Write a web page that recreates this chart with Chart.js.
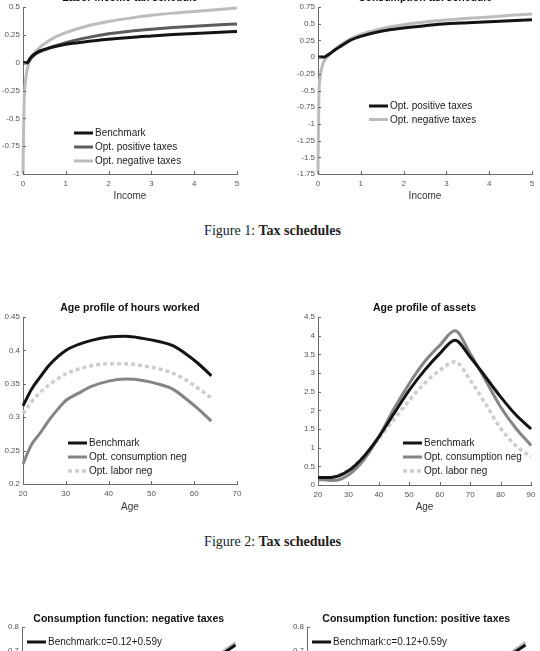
<!DOCTYPE html>
<html>
<head>
<meta charset="utf-8">
<script src="https://cdn.jsdelivr.net/npm/chart.js@4.4.0/dist/chart.umd.min.js"></script>
<style>
    html, body {
        margin: 0;
        padding: 0;
        background: #fff;
        width: 540px;
        height: 651px;
        overflow: hidden;
        position: relative;
    }
    canvas {
        position: absolute;
    }
    .caption {
        position: absolute;
        left: 0;
        width: 545px;
        text-align: center;
        font-family: "Liberation Serif", "Times New Roman", serif;
        font-size: 14px;
        color: #222;
    }
</style>
</head>
<body>
<div class="caption" style="top:223px">Figure 1: <b>Tax schedules</b></div>
<div class="caption" style="top:534px">Figure 2: <b>Tax schedules</b></div>

<script>
// Figure 1: tax schedules (x = income)
const incomeGrid = [0, 0.02, 0.05, 0.1, 0.15, 0.2, 0.3, 0.4, 0.5, 0.75, 1, 1.5, 2, 2.5, 3, 3.5, 4, 4.5, 5];
const laborBenchmark = [0, 0, 0, 0, 0.03, 0.055, 0.085, 0.105, 0.12, 0.145, 0.165, 0.19, 0.21, 0.227, 0.24, 0.252, 0.263, 0.272, 0.28];
const laborOptPositive = [0, 0, 0, 0, 0.02, 0.045, 0.08, 0.1, 0.115, 0.15, 0.18, 0.225, 0.26, 0.283, 0.3, 0.315, 0.327, 0.338, 0.348];
const laborOptNegative = [-1, -0.45, -0.2, -0.06, 0.01, 0.05, 0.1, 0.14, 0.17, 0.23, 0.27, 0.33, 0.37, 0.4, 0.425, 0.445, 0.46, 0.475, 0.49];
const consOptPositive = [0, 0, 0, 0, 0, 0.02, 0.06, 0.11, 0.15, 0.25, 0.31, 0.39, 0.435, 0.47, 0.5, 0.515, 0.53, 0.545, 0.56];
const consOptNegative = [-1.75, -0.6, -0.3, -0.13, -0.05, -0.01, 0.06, 0.12, 0.17, 0.27, 0.34, 0.43, 0.485, 0.525, 0.555, 0.58, 0.6, 0.625, 0.645];

// Figure 2: age profiles
const hoursAges = [20, 22, 24, 26, 28, 30, 33, 36, 40, 44, 48, 52, 55, 58, 61, 64];
const hoursBenchmark = [0.317, 0.342, 0.36, 0.377, 0.39, 0.4, 0.409, 0.415, 0.42, 0.421, 0.418, 0.413, 0.407, 0.395, 0.38, 0.362];
const hoursConsNeg = [0.23, 0.259, 0.276, 0.295, 0.311, 0.325, 0.336, 0.346, 0.354, 0.357, 0.355, 0.349, 0.342, 0.328, 0.312, 0.294];
const hoursLaborNeg = [0.305, 0.323, 0.337, 0.348, 0.357, 0.365, 0.372, 0.377, 0.38, 0.38, 0.377, 0.372, 0.366, 0.356, 0.343, 0.329];

const assetAges = [20, 25, 30, 35, 40, 45, 50, 55, 60, 65, 70, 75, 80, 85, 90];
const assetsBenchmark = [0.2, 0.21, 0.38, 0.76, 1.29, 1.92, 2.54, 3.07, 3.52, 3.88, 3.43, 2.9, 2.36, 1.88, 1.5];
const assetsConsNeg = [0.15, 0.12, 0.27, 0.67, 1.29, 2.05, 2.72, 3.3, 3.74, 4.13, 3.52, 2.81, 2.09, 1.52, 1.06];
const assetsLaborNeg = [0.15, 0.22, 0.4, 0.76, 1.25, 1.76, 2.27, 2.72, 3.07, 3.3, 2.81, 2.18, 1.52, 1.05, 0.76];

// Figure 3 (cut off at the bottom of the page): consumption functions
const cfIncome = [0, 0.25, 0.5, 0.75, 1.025];
const cfBenchmark = [0.12, 0.268, 0.415, 0.563, 0.725];
const cfModel = [0.13, 0.27, 0.415, 0.565, 0.735];

const FONT = '"Liberation Sans", Arial, sans-serif';
const AXIS_COLOR = '#6a6a6a';
const TICK_COLOR = '#555';
const TITLE_SIZE = 10.5;

function points(xs, ys) {
    return xs.map((x, i) => ({ x: x, y: ys[i] }));
}

function series(label, xs, ys, color, dash) {
    return {
        label: label,
        data: points(xs, ys),
        borderColor: color,
        borderWidth: dash ? 3.5 : 3,
        borderDash: dash || [],
        pointRadius: 0,
        fill: false,
        cubicInterpolationMode: 'monotone',
        clip: 3
    };
}

function tickText(v) {
    return String(Math.round(v * 1000) / 1000);
}

/* =============================================================================
PLUGINS: MATLAB-like inward ticks and a plain legend inside the axes
============================================================================= */

const innerTicks = {
    id: 'innerTicks',
    afterDatasetsDraw(chart) {
        const { ctx, chartArea, scales } = chart;
        ctx.save();
        ctx.strokeStyle = AXIS_COLOR;
        ctx.lineWidth = 1;
        ctx.beginPath();
        scales.x.ticks.forEach(t => {
            const px = Math.round(scales.x.getPixelForValue(t.value)) + 0.5;
            ctx.moveTo(px, chartArea.bottom);
            ctx.lineTo(px, chartArea.bottom - 3);
        });
        scales.y.ticks.forEach(t => {
            const py = Math.round(scales.y.getPixelForValue(t.value)) + 0.5;
            ctx.moveTo(chartArea.left, py);
            ctx.lineTo(chartArea.left + 3, py);
        });
        ctx.stroke();
        ctx.restore();
    }
};

const lineLegend = {
    id: 'lineLegend',
    afterDraw(chart, args, opts) {
        const { ctx, chartArea } = chart;
        const x0 = chartArea.left + opts.dx;
        let y = chartArea.top + opts.dy;
        ctx.save();
        ctx.font = '10px ' + FONT;
        ctx.textBaseline = 'middle';
        chart.data.datasets.forEach(ds => {
            if (!ds.label) return;
            ctx.strokeStyle = ds.borderColor;
            ctx.lineWidth = ds.borderWidth;
            ctx.setLineDash(ds.borderDash);
            ctx.beginPath();
            ctx.moveTo(x0, y);
            ctx.lineTo(x0 + 19, y);
            ctx.stroke();
            ctx.fillStyle = '#1a1a1a';
            ctx.fillText(ds.label, x0 + 21, y + 0.5);
            y += opts.rowGap;
        });
        ctx.restore();
    }
};

/* =============================================================================
CHART FACTORY
============================================================================= */

function makeChart(spec) {
    const height = spec.xTitleY + 6 - spec.top;
    const canvas = document.createElement('canvas');
    canvas.width = spec.width;
    canvas.height = height;
    canvas.style.left = spec.left + 'px';
    canvas.style.top = spec.top + 'px';
    document.body.appendChild(canvas);

    const titleLine = TITLE_SIZE * 1.2;
    const titlePadTop = spec.titleY - titleLine / 2 - spec.top;
    const titlePadBottom = spec.T - spec.top - titlePadTop - titleLine;

    const tickFont = { family: FONT, size: 8 };

    return new Chart(canvas.getContext('2d'), {
        type: 'line',
        data: { datasets: spec.datasets },
        options: {
            responsive: false,
            animation: false,
            devicePixelRatio: 1,
            layout: {
                padding: { left: 0, top: 0, bottom: 0, right: spec.left + spec.width - spec.R }
            },
            scales: {
                x: {
                    type: 'linear',
                    min: spec.xMin,
                    max: spec.xMax,
                    grid: { display: false, drawTicks: false },
                    border: { display: true, color: AXIS_COLOR, width: 1 },
                    ticks: {
                        stepSize: spec.xStep,
                        color: TICK_COLOR,
                        font: tickFont,
                        padding: 4.5,
                        maxRotation: 0,
                        autoSkip: false,
                        callback: tickText
                    },
                    title: {
                        display: !!spec.xTitle,
                        text: spec.xTitle,
                        color: '#333',
                        font: { family: FONT, size: 10 },
                        padding: { top: 0, bottom: 0 }
                    },
                    afterFit: scale => { scale.height = spec.top + height - spec.B; }
                },
                y: {
                    type: 'linear',
                    min: spec.yMin,
                    max: spec.yMax,
                    grid: { display: false, drawTicks: false },
                    border: { display: true, color: AXIS_COLOR, width: 1 },
                    ticks: {
                        stepSize: spec.yStep,
                        color: TICK_COLOR,
                        font: tickFont,
                        padding: 3,
                        autoSkip: false,
                        callback: tickText
                    },
                    afterFit: scale => { scale.width = spec.L - spec.left; }
                }
            },
            plugins: {
                legend: { display: false },
                tooltip: { enabled: false },
                title: {
                    display: true,
                    text: spec.title,
                    fullSize: false,
                    color: '#111',
                    font: { family: FONT, size: TITLE_SIZE, weight: 'bold' },
                    padding: { top: titlePadTop, bottom: titlePadBottom }
                },
                lineLegend: spec.legend
            }
        },
        plugins: [innerTicks, lineLegend]
    });
}

const BLACK = '#141414';
const DARK_GREY = '#5c5c5c';
const MID_GREY = '#858585';
const LIGHT_GREY = '#bcbcbc';
const DOT_GREY = '#cdcdcd';

makeChart({
    left: 0, top: -14, width: 250,
    L: 23, T: 7, R: 237, B: 174, titleY: -1.5, xTitleY: 196,
    title: 'Labor income tax schedule', xTitle: 'Income',
    xMin: 0, xMax: 5, xStep: 1, yMin: -1, yMax: 0.5, yStep: 0.25,
    legend: { dx: 51, dy: 126, rowGap: 14 },
    datasets: [
        series('Benchmark', incomeGrid, laborBenchmark, BLACK),
        series('Opt. positive taxes', incomeGrid, laborOptPositive, DARK_GREY),
        series('Opt. negative taxes', incomeGrid, laborOptNegative, LIGHT_GREY)
    ]
});

makeChart({
    left: 292, top: -14, width: 248,
    L: 318, T: 7, R: 532, B: 174, titleY: -1.5, xTitleY: 196,
    title: 'Consumption tax schedule', xTitle: 'Income',
    xMin: 0, xMax: 5, xStep: 1, yMin: -1.75, yMax: 0.75, yStep: 0.25,
    legend: { dx: 51, dy: 99, rowGap: 13.5 },
    datasets: [
        series('Opt. positive taxes', incomeGrid, consOptPositive, BLACK),
        series('Opt. negative taxes', incomeGrid, consOptNegative, LIGHT_GREY)
    ]
});

makeChart({
    left: 0, top: 300, width: 250,
    L: 23, T: 317, R: 237, B: 484, titleY: 308, xTitleY: 507,
    title: 'Age profile of hours worked', xTitle: 'Age',
    xMin: 20, xMax: 70, xStep: 10, yMin: 0.2, yMax: 0.45, yStep: 0.05,
    legend: { dx: 45, dy: 126, rowGap: 14 },
    datasets: [
        series('Benchmark', hoursAges, hoursBenchmark, BLACK),
        series('Opt. consumption neg', hoursAges, hoursConsNeg, MID_GREY),
        series('Opt. labor neg', hoursAges, hoursLaborNeg, DOT_GREY, [4, 3])
    ]
});

makeChart({
    left: 292, top: 300, width: 248,
    L: 318, T: 317, R: 532, B: 485, titleY: 308, xTitleY: 507,
    title: 'Age profile of assets', xTitle: 'Age',
    xMin: 20, xMax: 90, xStep: 10, yMin: 0, yMax: 4.5, yStep: 0.5,
    legend: { dx: 85, dy: 126, rowGap: 14 },
    datasets: [
        series('Benchmark', assetAges, assetsBenchmark, BLACK),
        series('Opt. consumption neg', assetAges, assetsConsNeg, MID_GREY),
        series('Opt. labor neg', assetAges, assetsLaborNeg, DOT_GREY, [4, 3])
    ]
});

makeChart({
    left: 0, top: 610, width: 250,
    L: 22, T: 627, R: 237, B: 795, titleY: 619, xTitleY: 818,
    title: 'Consumption function: negative taxes', xTitle: 'Income',
    xMin: 0, xMax: 1.025, xStep: 0.2, yMin: 0.1, yMax: 0.8, yStep: 0.1,
    legend: { dx: 5, dy: 15, rowGap: 14 },
    datasets: [
        series('Benchmark:c=0.12+0.59y', cfIncome, cfBenchmark, BLACK),
        series('', cfIncome, cfModel, LIGHT_GREY)
    ]
});

makeChart({
    left: 285, top: 610, width: 255,
    L: 307, T: 627, R: 532, B: 795, titleY: 619, xTitleY: 818,
    title: 'Consumption function: positive taxes', xTitle: 'Income',
    xMin: 0, xMax: 1.025, xStep: 0.2, yMin: 0.1, yMax: 0.8, yStep: 0.1,
    legend: { dx: 5, dy: 15, rowGap: 14 },
    datasets: [
        series('Benchmark:c=0.12+0.59y', cfIncome, cfBenchmark, BLACK),
        series('', cfIncome, cfModel, LIGHT_GREY)
    ]
});
</script>
</body>
</html>
